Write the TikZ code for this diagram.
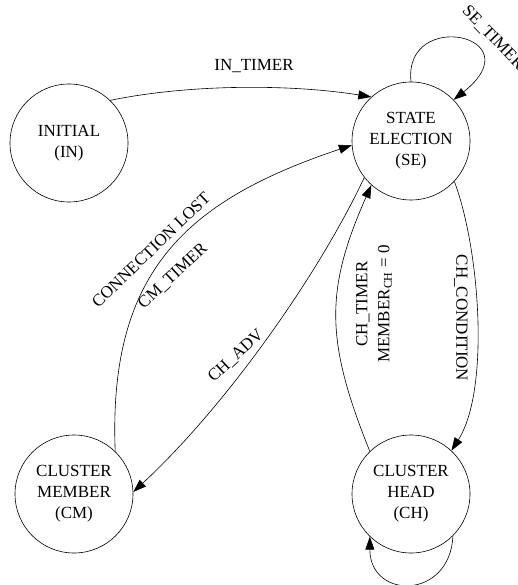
\documentclass[tikz,border=0pt]{standalone}
\usepackage{fontspec}
\setmainfont{Liberation Serif}
\usetikzlibrary{arrows.meta}
\begin{document}
\begin{tikzpicture}[x=1pt,y=-1pt,
  state/.style={draw, circle, line width=0.6pt, minimum size=118pt, inner sep=0pt, align=center, font=\fontsize{17}{21}\selectfont},
  lbl/.style={font=\fontsize{17}{21}\selectfont, inner sep=0pt, align=center},
  edge/.style={line width=0.6pt, -{Triangle[length=13pt,width=9pt]}},
]
\useasboundingbox (0,0) rectangle (517,585);
\clip (0,0) rectangle (517,585);
\node[state] (IN) at (69,143) {INITIAL\\(IN)};
\node[state] (SE) at (411,141) {STATE\\ELECTION\\(SE)};
\node[state] (CM) at (74,494) {CLUSTER\\MEMBER\\(CM)};
\node[state] (CH) at (411,494) {CLUSTER\\HEAD\\(CH)};

\draw[edge] (IN.46) .. controls (190,84) and (290,84) .. (SE.132);
\draw[edge] (SE.90) .. controls (403,8) and (535,35) .. (SE.44);
\draw[edge] (CM.46) .. controls (108,270) and (188,200) .. (SE.184);
\draw[edge] (SE.218) .. controls (318,276) and (225,407) .. (CM.2);
\draw[edge] (CH.134) .. controls (325,340) and (325,290) .. (SE.228);
\draw[edge] (SE.317) .. controls (480,250) and (490,390) .. (CH.47);
\draw[edge] (CH.315) .. controls (450,600) and (370,600) .. (CH.226);

\node[lbl] (l1) at (254,66) {IN\_TIMER};
\node[lbl, rotate=-46] (l2) at (493,38) {SE\_TIMER};
\node[lbl, rotate=44] (l3) at (151,250) {CONNECTION LOST};
\node[lbl, rotate=43] (l4) at (173,276) {CM\_TIMER};
\node[lbl, rotate=43] (l5) at (236,356) {CH\_ADV};
\node[lbl, rotate=90, font=\fontsize{17}{22}\selectfont] (l6) at (374,304) {CH\_TIMER\\MEMBER\textsubscript{CH} = 0};
\node[lbl, rotate=-90] (l7) at (461,318) {CH\_CONDITION};
\end{tikzpicture}
\end{document}
